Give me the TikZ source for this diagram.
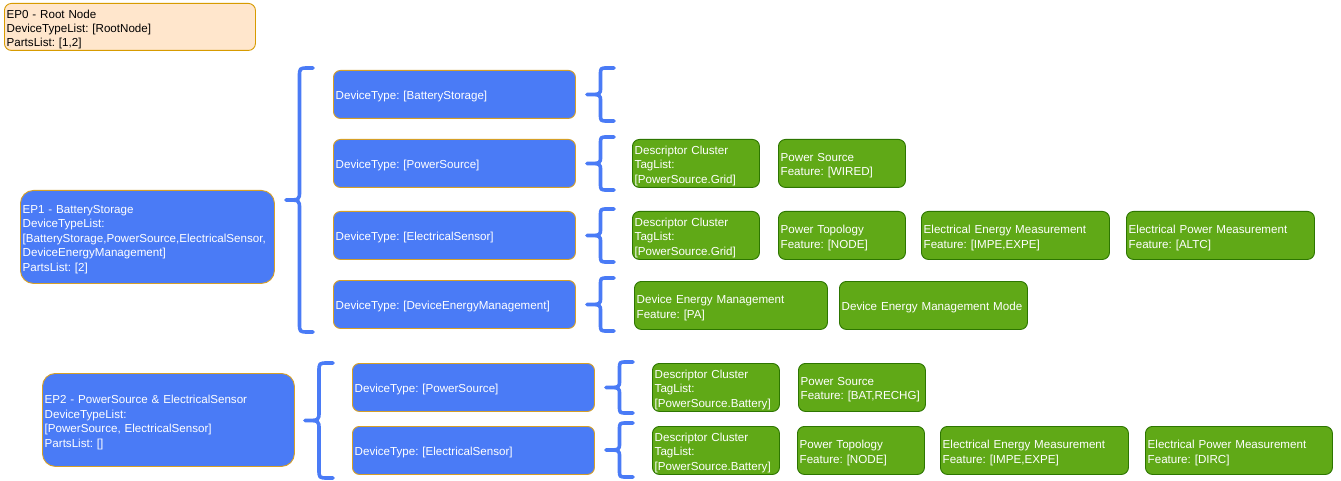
\documentclass[tikz,border=0pt]{standalone}
\usepackage{fontspec}
\setmainfont{Liberation Sans}
\frenchspacing
\definecolor{bluefill}{RGB}{74,123,246}
\definecolor{bluedraw}{RGB}{214,160,40}
\definecolor{greenfill}{RGB}{96,169,23}
\definecolor{greendraw}{RGB}{45,118,0}
\definecolor{peachfill}{RGB}{255,230,204}
\definecolor{peachdraw}{RGB}{215,155,0}
\definecolor{bracecol}{RGB}{74,123,246}
\tikzset{
  boxbase/.style={rectangle, line width=0.9pt, inner sep=0pt, anchor=north west, rounded corners=7pt},
  peachbox/.style={boxbase, fill=peachfill, draw=peachdraw},
  epbox/.style={boxbase, fill=bluefill, draw=bluedraw, rounded corners=13pt},
  dtbox/.style={boxbase, fill=bluefill, draw=bluedraw},
  grbox/.style={boxbase, fill=greenfill, draw=greendraw},
  boxtext/.style={inner sep=0pt, align=left, anchor=west, font=\fontsize{11.6}{14.4}\selectfont},
  bracestyle/.style={draw=bracecol, line width=3.6pt, line cap=round, line join=round}
}
% box: name, style, text colour, x1, y1, x2, y2, text
\newcommand{\bx}[8]{%
  \pgfmathsetmacro\bxw{#6-#4}%
  \pgfmathsetmacro\bxh{#7-#5}%
  \pgfmathsetmacro\bxt{#6-#4-5}%
  \node[#2, minimum width=\bxw pt, minimum height=\bxh pt] (#1) at (#4,#5) {};%
  \node[boxtext, text=#3, text width=\bxt pt] (#1t) at ([xshift=2.5pt,yshift=-2.5pt]#1.west) {#8};%
}
% curly brace: tip x, end x, top y, bottom y, radius
\newcommand{\cbr}[5]{%
  \pgfmathsetmacro\cbxm{(#1+#2)/2}%
  \pgfmathsetmacro\cbym{(#3+#4)/2}%
  \draw[bracestyle] (#2,#3) -- ({\cbxm+#5},#3) .. controls (\cbxm,#3) .. (\cbxm,{#3+#5})
    -- (\cbxm,{\cbym-#5}) .. controls (\cbxm,\cbym) .. (#1,\cbym)
    .. controls (\cbxm,\cbym) .. (\cbxm,{\cbym+#5})
    -- (\cbxm,{#4-#5}) .. controls (\cbxm,#4) .. ({\cbxm+#5},#4) -- (#2,#4);%
}
\begin{document}
\begin{tikzpicture}[x=1pt,y=-1pt]
\useasboundingbox[fill=white] (0,0) rectangle (1341,481);

\bx{ep0}{peachbox}{black}{4}{3}{255}{50}{EP0 - Root Node\\DeviceTypeList: {[}RootNode{]}\\PartsList: {[}1,2{]}}

% EP1
\bx{ep1}{epbox}{white}{20}{190}{274}{283}{EP1 - BatteryStorage\\DeviceTypeList:\\{[}BatteryStorage,PowerSource,ElectricalSensor,\\DeviceEnergyManagement{]}\\PartsList: {[}2{]}}
\cbr{286}{313}{68}{332}{9}

\bx{dt1}{dtbox}{white}{333}{70}{575}{118}{DeviceType: {[}BatteryStorage{]}}
\bx{dt2}{dtbox}{white}{333}{139}{575}{187}{DeviceType: {[}PowerSource{]}}
\bx{dt3}{dtbox}{white}{333}{211}{575}{259}{DeviceType: {[}ElectricalSensor{]}}
\bx{dt4}{dtbox}{white}{333}{280}{575}{328}{DeviceType: {[}DeviceEnergyManagement{]}}

\cbr{587}{614}{68}{121}{7}
\cbr{587}{614}{137}{190}{7}
\cbr{587}{614}{209}{262}{7}
\cbr{587}{614}{278}{331}{7}

\bx{g21}{grbox}{white}{632}{139}{759}{187}{Descriptor Cluster\\TagList:\\{[}PowerSource.Grid{]}}
\bx{g22}{grbox}{white}{778}{139}{905}{187}{Power Source\\Feature: {[}WIRED{]}}

\bx{g31}{grbox}{white}{632}{211}{759}{259}{Descriptor Cluster\\TagList:\\{[}PowerSource.Grid{]}}
\bx{g32}{grbox}{white}{778}{211}{905}{259}{Power Topology\\Feature: {[}NODE{]}}
\bx{g33}{grbox}{white}{921}{211}{1109}{259}{Electrical Energy Measurement\\Feature: {[}IMPE,EXPE{]}}
\bx{g34}{grbox}{white}{1126}{211}{1314}{259}{Electrical Power Measurement\\Feature: {[}ALTC{]}}

\bx{g41}{grbox}{white}{634}{281}{827}{329}{Device Energy Management\\Feature: {[}PA{]}}
\bx{g42}{grbox}{white}{839}{281}{1027}{329}{Device Energy Management Mode}

% EP2
\bx{ep2}{epbox}{white}{42}{373}{294}{466}{EP2 - PowerSource \& ElectricalSensor\\DeviceTypeList:\\{[}PowerSource, ElectricalSensor{]}\\PartsList: {[}{]}}
\cbr{305}{333}{363}{478}{9}

\bx{dt5}{dtbox}{white}{352}{363}{594}{411}{DeviceType: {[}PowerSource{]}}
\bx{dt6}{dtbox}{white}{352}{426}{594}{474}{DeviceType: {[}ElectricalSensor{]}}

\cbr{606}{633}{362}{413}{7}
\cbr{606}{633}{423}{477}{7}

\bx{g51}{grbox}{white}{652}{363}{779}{411}{Descriptor Cluster\\TagList:\\{[}PowerSource.Battery{]}}
\bx{g52}{grbox}{white}{798}{363}{925}{411}{Power Source\\Feature: {[}BAT,RECHG{]}}

\bx{g61}{grbox}{white}{652}{426}{779}{474}{Descriptor Cluster\\TagList:\\{[}PowerSource.Battery{]}}
\bx{g62}{grbox}{white}{797}{426}{924}{474}{Power Topology\\Feature: {[}NODE{]}}
\bx{g63}{grbox}{white}{940}{426}{1128}{474}{Electrical Energy Measurement\\Feature: {[}IMPE,EXPE{]}}
\bx{g64}{grbox}{white}{1145}{426}{1332}{474}{Electrical Power Measurement\\Feature: {[}DIRC{]}}
\end{tikzpicture}
\end{document}
